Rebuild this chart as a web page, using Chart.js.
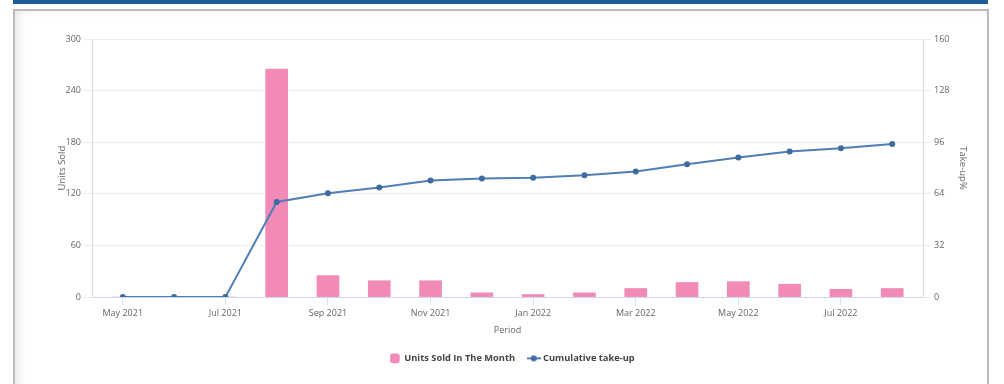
<!DOCTYPE html>
<html>
<head>
<meta charset="utf-8">
<script src="https://cdn.jsdelivr.net/npm/chart.js@4.4.1/dist/chart.umd.min.js"></script>
<style>
    body { margin: 0; background: #fff; width: 1004px; height: 384px; overflow: hidden; position: relative; }
    #topbar { position: absolute; left: 13px; top: 0; width: 975px; height: 4px; background: #1b5c99; }
    #frame { position: absolute; left: 13px; top: 9px; width: 972px; height: 380px;
             border: 2px solid #bcbcbc; border-bottom: none; box-shadow: inset 8px 4px 10px -6px rgba(0,0,0,0.12); }
    #chart { position: absolute; left: 0; top: 0; }
</style>
</head>
<body>
<div id="topbar"></div>
<div id="frame"></div>
<canvas id="chart" width="1004" height="384"></canvas>
<script>
// months on the x axis
const months = ['May 2021', 'Jun 2021', 'Jul 2021', 'Aug 2021', 'Sep 2021', 'Oct 2021', 'Nov 2021', 'Dec 2021',
                'Jan 2022', 'Feb 2022', 'Mar 2022', 'Apr 2022', 'May 2022', 'Jun 2022', 'Jul 2022', 'Aug 2022'];
// units sold in each month (left axis)
const unitsSold = [0, 0, 0, 265, 25, 19, 19, 5, 3, 5, 10, 17, 18, 15, 9, 10];
// cumulative take-up % (right axis)
const takeUp = [0, 0, 0, 59, 64.4, 68, 72.3, 73.5, 74, 75.5, 77.8, 82.3, 86.5, 90.2, 92.2, 94.9];
const leftTicks = [0, 60, 120, 180, 240, 300];
const rightTicks = [0, 32, 64, 96, 128, 160];

const font = 'Open Sans';
const grey = '#666';

// legend marker for the line series: a short line with a dot
const lineMarker = document.createElement('canvas');
lineMarker.width = 14;
lineMarker.height = 8;
const mctx = lineMarker.getContext('2d');
mctx.strokeStyle = '#4f7fb6';
mctx.lineWidth = 2;
mctx.beginPath();
mctx.moveTo(0, 4);
mctx.lineTo(14, 4);
mctx.stroke();
mctx.fillStyle = '#3f6c9e';
mctx.beginPath();
mctx.arc(7, 4, 3, 0, Math.PI * 2);
mctx.fill();

const ctx = document.getElementById('chart').getContext('2d');
new Chart(ctx, {
    data: {
        datasets: [{
            type: 'bar',
            label: 'Units Sold In The Month',
            data: unitsSold.map((v, i) => ({ x: i, y: v })),
            backgroundColor: 'rgb(241, 138, 183)',
            barThickness: 22,
            yAxisID: 'y',
            order: 2
        }, {
            type: 'line',
            label: 'Cumulative take-up',
            data: takeUp.map((v, i) => ({ x: i, y: v })),
            borderColor: '#4f7fb6',
            backgroundColor: '#3f6c9e',
            borderWidth: 2,
            pointRadius: 3,
            pointBackgroundColor: '#3f6c9e',
            pointBorderWidth: 0,
            tension: 0,
            yAxisID: 'y1',
            order: 1
        }]
    },
    options: {
        responsive: false,
        animation: false,
        devicePixelRatio: 1,
        layout: { padding: { left: 54, right: 33, top: 39, bottom: 11 } },
        plugins: {
            tooltip: { enabled: false },
            legend: {
                position: 'bottom',
                labels: {
                    usePointStyle: true,
                    boxWidth: 14,
                    boxHeight: 8,
                    padding: 14,
                    color: '#444',
                    font: { family: font, size: 9.3, weight: 'bold' },
                    generateLabels(chart) {
                        const items = Chart.defaults.plugins.legend.labels.generateLabels(chart);
                        items.sort((a, b) => a.datasetIndex - b.datasetIndex);
                        items[0].pointStyle = 'rectRounded';
                        items[1].pointStyle = lineMarker;
                        return items;
                    }
                }
            }
        },
        scales: {
            x: {
                type: 'linear',
                offset: false,
                min: -0.6,
                max: months.length - 0.4,
                afterBuildTicks(scale) {
                    scale.ticks = months.map((m, i) => ({ value: i })).filter(t => t.value % 2 === 0);
                },
                grid: { offset: false, drawOnChartArea: false, tickLength: 8, color: '#dde3ee' },
                border: { color: '#ccd6eb' },
                ticks: {
                    color: grey,
                    font: { family: font, size: 9 },
                    maxRotation: 0,
                    autoSkip: false,
                    callback: v => months[v]
                },
                title: { display: true, text: 'Period', color: grey, font: { family: font, size: 9 }, padding: { top: 3, bottom: 4 } }
            },
            y: {
                position: 'left',
                min: 0,
                max: 300,
                afterBuildTicks(scale) { scale.ticks = leftTicks.map(v => ({ value: v })); },
                afterFit(scale) { scale.width = 38; },
                grid: { color: '#ececec', tickLength: 8 },
                border: { color: '#dcdcdc' },
                ticks: { color: grey, font: { family: font, size: 9 } },
                title: { display: true, text: 'Units Sold', color: grey, font: { family: font, size: 9.5 }, padding: { top: 3, bottom: 3 } }
            },
            y1: {
                position: 'right',
                min: 0,
                max: 160,
                afterBuildTicks(scale) { scale.ticks = rightTicks.map(v => ({ value: v })); },
                afterFit(scale) { scale.width = 48; },
                grid: { drawOnChartArea: false, color: '#ececec', tickLength: 8 },
                border: { color: '#dcdcdc' },
                ticks: { color: grey, font: { family: font, size: 9 } },
                title: { display: true, text: 'Take-up%', color: grey, font: { family: font, size: 9.5 }, padding: { top: 3, bottom: 3 } }
            }
        }
    }
});
</script>
</body>
</html>
